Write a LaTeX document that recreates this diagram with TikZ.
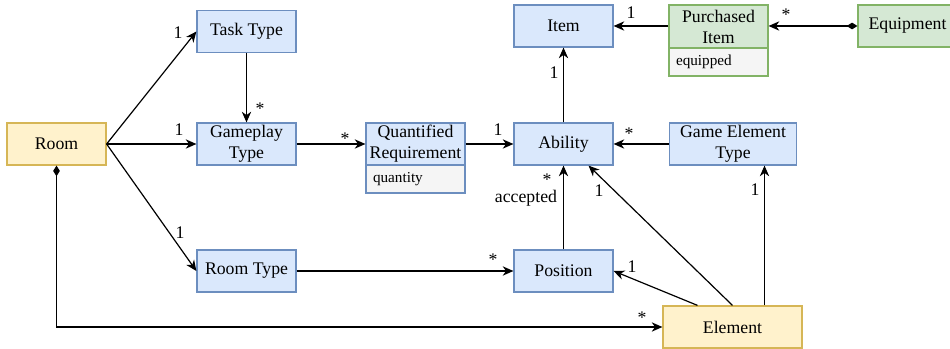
\documentclass[tikz,border=0pt]{standalone}
\usepackage{fontspec}
\setmainfont{Liberation Serif}
\newfontfamily\umlfont{Liberation Serif}
\usetikzlibrary{positioning,arrows.meta,calc}
\definecolor{clsblue}{HTML}{DAE8FC}
\definecolor{clsblueline}{HTML}{6C8EBF}
\definecolor{clsyellow}{HTML}{FFF2CC}
\definecolor{clsyellowline}{HTML}{D6B656}
\definecolor{clsgreen}{HTML}{D5E8D4}
\definecolor{clsgreenline}{HTML}{82B366}
\definecolor{attrgray}{HTML}{F5F5F5}
\tikzstyle{arrow} = [line width=0.9pt,-{Stealth[length=8pt,width=7pt,inset=2.5pt]}]
\tikzstyle{comp} = [line width=0.9pt,{Diamond[length=8pt,width=5pt]}-{Stealth[length=8pt,width=7pt,inset=2.5pt]}]

\begin{document}
\begin{tikzpicture}[x=0.75pt,y=-0.75pt,
  every node/.style={font=\umlfont\fontsize{13.3}{15.75}\selectfont},
  cls/.style={line width=0.9pt,minimum width=74.25pt,minimum height=31.5pt,align=center,inner sep=1pt},
  bluebox/.style={cls,draw=clsblueline,fill=clsblue},
  yellowbox/.style={cls,draw=clsyellowline,fill=clsyellow},
  greenbox/.style={cls,draw=clsgreenline,fill=clsgreen},
  attrbox/.style={line width=0.9pt,fill=attrgray,minimum height=21pt,text width=63.75pt,inner xsep=5.25pt,inner ysep=0pt,align=left,font=\umlfont\fontsize{11.4}{13}\selectfont},
  mult/.style={inner sep=0pt},
  starmult/.style={inner sep=0pt,anchor=base,text depth=0pt}]

 \useasboundingbox (0,0) rectangle (950,349);

 % classes
 \node[yellowbox] (room) at (56.5,144) {Room};
 \node[bluebox] (task) at (246.5,31.5) {Task Type};
 \node[bluebox] (gameplay) at (246.5,144) {Gameplay\\Type};
 \node[bluebox] (roomtype) at (246.5,271) {Room Type};
 \node[bluebox] (quant) at (415.5,144) {Quantified\\Requirement};
 \node[attrbox,draw=clsblueline] (quantattr) at (415.5,179) {quantity};
 \node[bluebox] (item) at (563.5,26) {Item};
 \node[bluebox] (ability) at (563.5,144) {Ability};
 \node[bluebox] (position) at (563.5,271) {Position};
 \node[greenbox,minimum height=32.25pt] (purchased) at (718.5,26.5) {Purchased\\Item};
 \node[attrbox,draw=clsgreenline] (purchasedattr) at (718.5,62) {equipped};
 \node[greenbox] (equip) at (907.5,26) {Equipment};
 \node[bluebox,minimum width=95.25pt] (getype) at (733,144) {Game Element\\Type};
 \node[yellowbox,minimum width=104.25pt] (element) at (732.5,327) {Element};

 % associations
 \draw[arrow] (room.east) -- (task.west);
 \draw[arrow] (room.east) -- (gameplay.west);
 \draw[arrow] (room.east) -- (roomtype.west);
 \draw[arrow] (task) -- (gameplay);
 \draw[arrow] (gameplay) -- (quant);
 \draw[arrow] (quant) -- (ability);
 \draw[arrow] (ability) -- (item);
 \draw[arrow] (purchased.west |- item) -- (item);
 \draw[comp] (equip.west) -- (purchased.east |- equip);
 \draw[arrow] (getype) -- (ability);
 \draw[arrow] (position) -- (ability);
 \draw[arrow] (roomtype) -- (position);
 \draw[arrow] (element.north) -- ($(ability.south)!0.5!(ability.south east)$);
 \draw[arrow] ($(element.north)+(-35,0)$) -- (position.east);
 \coordinate (elgt) at ($(element.north)+(32,0)$);
 \draw[arrow] (elgt) -- (elgt |- getype.south);
 \draw[comp] (room.south) |- (element.west);

 % multiplicities
 \node[mult] (m1) at (178,33) {1};
 \node[mult] (m2) at (179,130) {1};
 \node[mult] (m3) at (180,233) {1};
 \node[starmult] (m4) at (260,115) {*};
 \node[starmult] (m5) at (345,145) {*};
 \node[mult] (m6) at (498,130) {1};
 \node[mult] (m7) at (554,73) {1};
 \node[mult] (m8) at (631,13) {1};
 \node[starmult] (m9) at (786,21) {*};
 \node[starmult] (m10) at (629,140) {*};
 \node[starmult] (m11) at (547,186) {*};
 \node[mult] (acc) at (526,198) {accepted};
 \node[mult] (m12) at (599,191) {1};
 \node[mult] (m13) at (632,267) {1};
 \node[mult] (m14) at (755,190) {1};
 \node[starmult] (m15) at (642,323) {*};
 \node[starmult] (m16) at (493,266) {*};
\end{tikzpicture}
\end{document}
